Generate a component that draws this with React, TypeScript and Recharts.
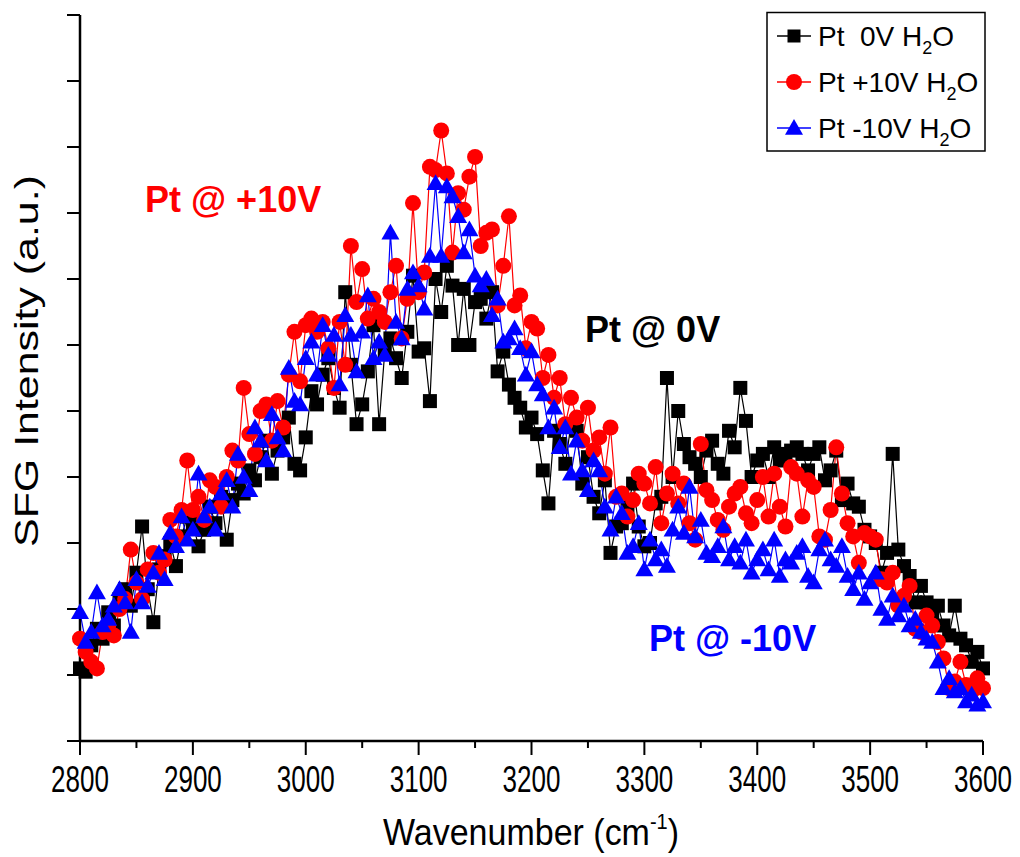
import * as React from "react";
import { LineChart, Line, XAxis, YAxis } from "recharts";

// wavenumber grid (cm-1)
const WN_START = 2800;
const WN_STEP = 5;

const xTicks = [2800, 2850, 2900, 2950, 3000, 3050, 3100, 3150, 3200, 3250, 3300, 3350, 3400, 3450, 3500, 3550, 3600];
const yTicks = [0, 1, 2, 3, 4, 5, 6, 7, 8, 9, 10, 11];

// SFG intensity (a.u.), one value per 5 cm-1 from 2800 to 3600
const pt0V = [
    1.10, 1.05, 1.45, 1.70, 1.55, 1.95, 1.75, 2.15, 2.30, 2.05,
    2.55, 3.25, 2.30, 1.80, 2.60, 2.80, 3.00, 2.65, 3.10, 3.40,
    3.30, 2.95, 3.20, 3.55, 3.30, 3.70, 3.05, 3.65, 3.90, 3.75,
    4.10, 3.95, 4.30, 4.55, 4.05, 4.40, 4.60, 4.90, 4.20, 4.10,
    4.60, 5.30, 5.10, 5.55, 5.80, 5.35, 5.05, 6.80, 5.70, 4.80,
    5.10, 5.60, 6.30, 4.80, 5.90, 6.10, 5.80, 5.50, 6.20, 7.05,
    5.90, 5.95, 5.15, 7.00, 6.50, 7.20, 6.90, 6.00, 6.85, 6.00,
    6.65, 6.70, 6.40, 6.80, 5.60, 5.90, 5.40, 5.20, 5.05, 4.75,
    4.90, 4.65, 4.10, 3.60, 4.70, 4.50, 4.20, 4.80, 4.70, 3.90,
    4.30, 3.70, 3.45, 3.95, 2.85, 3.25, 3.30, 3.55, 3.90, 3.25,
    2.95, 3.00, 3.60, 3.70, 5.50, 4.00, 5.00, 4.50, 4.30, 4.20,
    4.00, 4.40, 4.55, 4.20, 4.05, 4.70, 4.45, 5.35, 4.85, 4.00,
    4.25, 4.35, 4.00, 4.45, 4.25, 4.35, 4.40, 4.45, 4.35, 4.10,
    4.35, 4.45, 3.95, 4.10, 4.40, 3.65, 3.90, 3.60, 3.55, 3.20,
    3.10, 3.00, 2.55, 2.85, 4.35, 2.90, 2.65, 2.50, 2.10, 2.35,
    2.10, 1.85, 2.05, 1.75, 1.60, 2.05, 1.55, 1.45, 1.20, 1.35,
    1.10,
];

const ptPlus10V = [
    1.55, 1.35, 1.20, 1.10, 1.65, 1.75, 1.60, 2.00, 2.15, 2.90,
    2.40, 2.15, 2.60, 2.85, 2.55, 2.75, 3.35, 3.10, 3.50, 4.25,
    3.50, 3.70, 3.35, 3.95, 3.85, 3.55, 4.00, 4.40, 4.25, 5.35,
    4.65, 4.35, 5.00, 5.10, 4.55, 5.15, 4.75, 5.55, 6.20, 5.45,
    6.30, 6.40, 6.20, 6.35, 5.95, 5.35, 6.35, 5.70, 7.50, 6.65,
    7.15, 6.40, 6.70, 6.50, 6.35, 6.80, 7.20, 6.10, 6.70, 8.15,
    6.80, 7.10, 8.70, 8.65, 9.25, 8.60, 7.40, 8.30, 8.05, 8.55,
    8.85, 7.50, 7.70, 7.75, 6.60, 7.20, 7.95, 6.60, 6.75, 5.95,
    6.35, 6.25, 5.50, 5.85, 5.20, 5.50, 4.80, 5.20, 4.90, 4.55,
    5.05, 4.40, 4.60, 4.05, 4.75, 3.70, 3.75, 3.40, 3.65, 4.05,
    3.90, 3.60, 4.15, 3.30, 3.75, 4.05, 3.60, 3.90, 3.30, 3.05,
    4.50, 3.80, 3.65, 3.35, 3.20, 3.55, 3.75, 3.85, 3.45, 3.30,
    3.65, 4.00, 3.40, 4.05, 3.55, 3.25, 4.15, 4.05, 3.40, 3.95,
    3.85, 3.10, 3.05, 3.50, 4.45, 3.75, 3.30, 3.10, 2.70, 3.15,
    3.10, 3.05, 2.45, 2.40, 2.55, 2.05, 2.20, 2.35, 1.70, 1.65,
    1.90, 1.75, 1.50, 1.25, 0.80, 0.90, 1.20, 0.85, 0.75, 0.95,
    0.80,
];

const ptMinus10V = [
    1.95, 1.50, 1.65, 2.25, 1.75, 1.85, 2.05, 2.30, 2.10, 1.65,
    2.45, 2.10, 2.35, 2.55, 2.85, 2.45, 3.15, 2.95, 3.40, 3.05,
    3.20, 4.05, 3.40, 3.55, 3.20, 3.75, 3.95, 3.55, 4.35, 4.00,
    3.80, 4.75, 4.55, 4.25, 4.95, 4.60, 4.40, 5.65, 5.15, 5.10,
    5.80, 6.05, 5.55, 6.30, 5.85, 6.15, 5.40, 6.45, 6.15, 5.60,
    6.20, 6.75, 5.80, 6.05, 5.85, 7.70, 6.35, 6.10, 6.85, 7.10,
    6.90, 6.55, 7.35, 8.45, 7.35, 8.40, 8.25, 7.95, 7.40, 7.75,
    7.05, 6.90, 7.00, 6.45, 6.70, 6.05, 6.10, 6.25, 5.95, 5.55,
    5.90, 5.40, 5.25, 4.75, 5.05, 4.45, 4.75, 4.05, 4.55, 4.10,
    3.80, 4.25, 4.10, 3.55, 3.20, 3.70, 3.45, 2.85, 2.95, 3.30,
    2.60, 3.05, 2.75, 2.90, 2.65, 3.20, 3.55, 3.15, 3.85, 3.10,
    3.35, 2.85, 2.80, 2.95, 3.25, 2.75, 2.95, 2.70, 3.05, 2.55,
    2.75, 2.90, 2.60, 3.05, 2.50, 2.75, 2.70, 2.85, 2.95, 2.50,
    2.40, 2.90, 3.05, 2.75, 2.65, 2.95, 2.50, 2.30, 2.55, 2.15,
    2.40, 2.55, 2.00, 1.85, 2.20, 1.90, 2.05, 1.75, 1.85, 1.65,
    1.55, 1.50, 1.20, 0.80, 0.95, 0.75, 0.80, 0.60, 0.70, 0.55,
    0.60,
];

const data = pt0V.map((v, i) => ({
    wn: WN_START + i * WN_STEP,
    v0: v,
    vp: ptPlus10V[i],
    vm: ptMinus10V[i],
}));

const FONT = "'Liberation Sans', Arial, sans-serif";

const square = (cx: number, cy: number, s: number, fill: string, key?: any) => (
    <rect key={key} x={cx - s / 2} y={cy - s / 2} width={s} height={s} fill={fill} />
);
const circle = (cx: number, cy: number, r: number, fill: string, key?: any) => (
    <circle key={key} cx={cx} cy={cy} r={r} fill={fill} />
);
const triangle = (cx: number, cy: number, s: number, fill: string, key?: any) => (
    <polygon key={key} points={`${cx},${cy - s} ${cx - s},${cy + s * 0.75} ${cx + s},${cy + s * 0.75}`} fill={fill} />
);

const XTick = (props: any) => {
    const { x, y, payload } = props;
    const major = payload.value % 100 === 0;
    return (
        <g>
            <line x1={x} x2={x} y1={y} y2={y + (major ? 14 : 7)} stroke="#000" strokeWidth={2} />
            {major && (
                <text transform={`translate(${x},${y + 51}) scale(1,1.4)`} textAnchor="middle"
                    fontSize={26} fontFamily={FONT} fill="#000">
                    {payload.value}
                </text>
            )}
        </g>
    );
};

const legendItems = [
    { label: "Pt\u00a0\u00a00V H", color: "#000000", mark: "square" },
    { label: "Pt +10V H", color: "#ff0000", mark: "circle" },
    { label: "Pt -10V H", color: "#0000ff", mark: "triangle" },
];

const Overlay = () => (
    <svg width={1020} height={857} style={{ position: "absolute", left: 0, top: 0, pointerEvents: "none" }}>
        <text transform="translate(38,361) scale(1,1.3) rotate(-90)" textAnchor="middle"
            fontSize={33} fontFamily={FONT} fill="#000">SFG Intensity (a.u.)</text>
        <text transform="translate(531,845) scale(1,1.1)" textAnchor="middle"
            fontSize={34} fontFamily={FONT} fill="#000">
            Wavenumber (cm<tspan fontSize={20} dy={-15}>-1</tspan><tspan dy={15}>)</tspan>
        </text>

        <text x={145} y={212} fontSize={36} fontWeight="bold" fontFamily={FONT} fill="#ff0000">Pt @ +10V</text>
        <text x={585} y={342} fontSize={36} fontWeight="bold" fontFamily={FONT} fill="#000000">Pt @ 0V</text>
        <text x={649} y={651} fontSize={36} fontWeight="bold" fontFamily={FONT} fill="#0000ff">Pt @ -10V</text>

        <rect x={767} y={12.5} width={218} height={138.5} fill="#fff" stroke="#000" strokeWidth={1.5} />
        {legendItems.map((it, i) => {
            const cy = 36 + i * 46;
            return (
                <g key={it.label}>
                    <line x1={777} x2={811} y1={cy} y2={cy} stroke={it.color} strokeWidth={1.3} />
                    {it.mark === "square" && square(794, cy, 13, it.color)}
                    {it.mark === "circle" && circle(794, cy, 8, it.color)}
                    {it.mark === "triangle" && triangle(794, cy, 9, it.color)}
                    <text x={818} y={cy + 10} fontSize={28} fontFamily={FONT} fill="#000">
                        {it.label}<tspan fontSize={18} dy={8}>2</tspan><tspan dy={-8}>O</tspan>
                    </text>
                </g>
            );
        })}
    </svg>
);

export default function App() {
    return (
        <div style={{ position: "absolute", left: 0, top: 0, width: 1020, height: 857, background: "#fff" }}>
            <LineChart width={1020} height={857} data={data}
                margin={{ top: 15, right: 37, left: 20, bottom: 56 }}>
                <XAxis
                    type="number"
                    dataKey="wn"
                    domain={[2800, 3600]}
                    ticks={xTicks}
                    height={60}
                    axisLine={{ stroke: "#000", strokeWidth: 2.5 }}
                    tickLine={false}
                    tickSize={0}
                    tickMargin={0}
                    tick={<XTick />}
                    interval={0} />
                <YAxis
                    type="number"
                    domain={[0, 11]}
                    ticks={yTicks}
                    width={60}
                    axisLine={{ stroke: "#000", strokeWidth: 2.5 }}
                    tickLine={{ stroke: "#000", strokeWidth: 2 }}
                    tickSize={13}
                    tick={() => <g />}
                    interval={0} />
                <Line dataKey="v0" type="linear" stroke="#000" strokeWidth={1.2} isAnimationActive={false}
                    activeDot={false}
                    dot={(p: any) => square(p.cx, p.cy, 14, "#000", p.index)} />
                <Line dataKey="vp" type="linear" stroke="#ff0000" strokeWidth={1.2} isAnimationActive={false}
                    activeDot={false}
                    dot={(p: any) => circle(p.cx, p.cy, 8, "#ff0000", p.index)} />
                <Line dataKey="vm" type="linear" stroke="#0000ff" strokeWidth={1.2} isAnimationActive={false}
                    activeDot={false}
                    dot={(p: any) => triangle(p.cx, p.cy, 9, "#0000ff", p.index)} />
            </LineChart>
            <Overlay />
        </div>
    );
}
